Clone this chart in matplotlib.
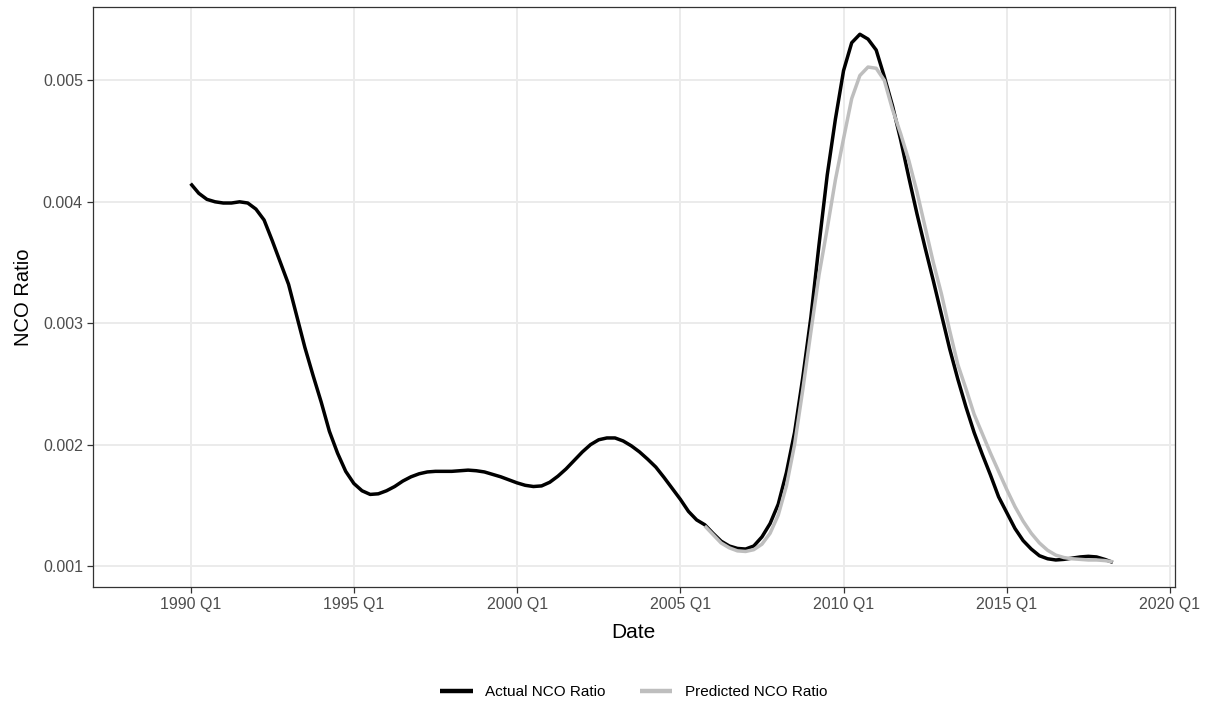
import numpy as np
import pandas as pd
import matplotlib
matplotlib.use("Agg")
import matplotlib.pyplot as plt
from matplotlib.ticker import FixedLocator, FuncFormatter

plt.rcParams['font.family'] = ['Liberation Sans', 'DejaVu Sans']

# quarterly net charge-off ratio, 1990 Q1 - 2018 Q2
actual_start = '1990Q1'
actual_nco = [
    4.15, 4.07, 4.02, 4.00, 3.99, 3.99, 4.00, 3.99, 3.94, 3.85,
    3.68, 3.50, 3.32, 3.06, 2.80, 2.57, 2.35, 2.11, 1.93, 1.78,
    1.68, 1.62, 1.59, 1.595, 1.62, 1.655, 1.70, 1.735, 1.76, 1.775,
    1.78, 1.78, 1.78, 1.785, 1.79, 1.785, 1.775, 1.755, 1.735, 1.71,
    1.685, 1.665, 1.655, 1.66, 1.69, 1.74, 1.80, 1.87, 1.94, 2.00,
    2.04, 2.055, 2.055, 2.03, 1.99, 1.94, 1.88, 1.815, 1.73, 1.64,
    1.55, 1.45, 1.38, 1.34, 1.27, 1.205, 1.165, 1.145, 1.14, 1.165,
    1.24, 1.35, 1.51, 1.77, 2.10, 2.55, 3.05, 3.65, 4.22, 4.68,
    5.08, 5.31, 5.38, 5.34, 5.25, 5.03, 4.79, 4.51, 4.20, 3.90,
    3.62, 3.35, 3.07, 2.79, 2.54, 2.31, 2.10, 1.92, 1.75, 1.57,
    1.44, 1.31, 1.21, 1.14, 1.085, 1.06, 1.05, 1.055, 1.065, 1.075,
    1.08, 1.075, 1.055, 1.03,
]

# model fit, 2005 Q4 - 2018 Q2
predicted_start = '2005Q4'
predicted_nco = [
    1.33, 1.26, 1.19, 1.15, 1.125, 1.12, 1.135, 1.18, 1.27, 1.42,
    1.66, 2.00, 2.45, 2.93, 3.40, 3.78, 4.18, 4.52, 4.85, 5.04,
    5.11, 5.10, 5.00, 4.76, 4.56, 4.34, 4.08, 3.79, 3.50, 3.24,
    2.94, 2.66, 2.46, 2.25, 2.09, 1.93, 1.78, 1.63, 1.49, 1.37,
    1.27, 1.19, 1.13, 1.09, 1.07, 1.06, 1.055, 1.05, 1.05, 1.045,
    1.035,
]

tick_years = [1990, 1995, 2000, 2005, 2010, 2015, 2020]
y_ticks = [0.001, 0.002, 0.003, 0.004, 0.005]


def quarter_axis(start, n):
    """Decimal-year positions for n consecutive quarters."""
    periods = pd.period_range(start, periods=n, freq='Q')
    return periods.year + (periods.quarter - 1) / 4.0


act = pd.Series(np.array(actual_nco) / 1000,
                index=quarter_axis(actual_start, len(actual_nco)))
pred = pd.Series(np.array(predicted_nco) / 1000,
                 index=quarter_axis(predicted_start, len(predicted_nco)))

fig = plt.figure(figsize=(12.07, 7.02), dpi=100)
ax = fig.add_axes([0.0768, 0.1634, 0.8966, 0.8262])

ax.plot(act.index, act.values, color='black', lw=2.5,
        solid_joinstyle='round', solid_capstyle='butt',
        label='Actual NCO Ratio', zorder=3)
ax.plot(pred.index, pred.values, color='#BEBEBE', lw=2.5,
        solid_joinstyle='round', solid_capstyle='butt',
        label='Predicted NCO Ratio', zorder=4)

ax.set_xlim(1987.0, 2020.15)
ax.set_ylim(0.000825, 0.005602)

ax.xaxis.set_major_locator(FixedLocator(tick_years))
ax.xaxis.set_major_formatter(FuncFormatter(lambda v, p: f'{int(v)} Q1'))
ax.yaxis.set_major_locator(FixedLocator(y_ticks))
ax.yaxis.set_major_formatter(FuncFormatter(lambda v, p: f'{v:.3f}'))

ax.grid(True, color='#EBEBEB', lw=1.4, zorder=0)
ax.set_axisbelow(True)
for s in ax.spines.values():
    s.set_color('#333333')
    s.set_linewidth(0.9)
ax.tick_params(axis='both', colors='#333333', length=4, width=0.9,
               labelsize=11.5, labelcolor='#4D4D4D', pad=3)

ax.set_xlabel('Date', fontsize=15, labelpad=8)
ax.set_ylabel('NCO Ratio', fontsize=14.5, labelpad=7)

handles, labels = ax.get_legend_handles_labels()
leg = fig.legend(handles, labels, loc='lower center', ncol=2, frameon=False,
                 bbox_to_anchor=(0.525, -0.016), fontsize=11,
                 handlelength=2.1, columnspacing=2.3, handletextpad=0.8)
for line in leg.get_lines():
    line.set_linewidth(3.2)

fig.savefig('out.png', dpi=100)
